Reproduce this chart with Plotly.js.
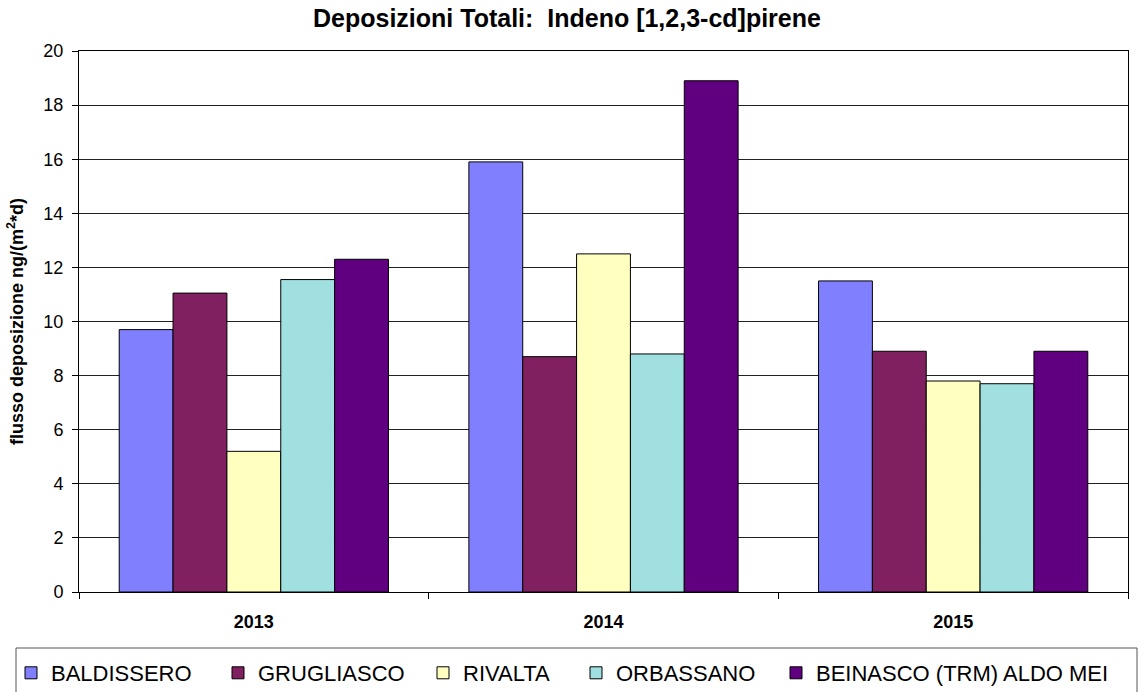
<!DOCTYPE html>
<html>
<head>
<meta charset="utf-8">
<script src="https://cdn.plot.ly/plotly-3.0.1.min.js"></script>
<style>html,body{margin:0;padding:0;background:#fff;}#chart{width:1145px;height:692px;}</style>
</head>
<body>
<div id="chart"></div>
<script>
// ---- data ----
const years = ['2013', '2014', '2015'];
const stations = ['BALDISSERO', 'GRUGLIASCO', 'RIVALTA', 'ORBASSANO', 'BEINASCO (TRM) ALDO MEI'];
const baldissero = [9.7, 15.9, 11.5];
const grugliasco = [11.05, 8.7, 8.9];
const rivalta = [5.2, 12.5, 7.8];
const orbassano = [11.55, 8.8, 7.7];
const beinasco = [12.3, 18.9, 8.9];
const yTicks = [0, 2, 4, 6, 8, 10, 12, 14, 16, 18, 20];

// ---- styling ----
const colors = ['#8080FF', '#802060', '#FFFFC0', '#A0E0E0', '#600080'];
const seriesValues = [baldissero, grugliasco, rivalta, orbassano, beinasco];
const W = 1145, H = 692;
const mL = 79, mR = 17, mT = 51, mB = 100;
const plotW = W - mL - mR, plotH = H - mT - mB;
const px2x = p => (p - mL) / plotW;
const px2y = p => (H - mB - p) / plotH;
const legendTextStart = [55, 262, 467, 620, 820];
const legendNames = ['legend', 'legend2', 'legend3', 'legend4', 'legend5'];

const traces = stations.map((name, i) => ({
  type: 'bar',
  name: name,
  x: years,
  y: seriesValues[i],
  marker: {color: colors[i], line: {color: '#000000', width: 1}},
  legend: legendNames[i],
  hoverinfo: 'x+y+name'
}));

const layout = {
  width: W, height: H,
  margin: {l: mL, r: mR, t: mT, b: mB, pad: 0, autoexpand: false},
  paper_bgcolor: '#ffffff',
  plot_bgcolor: '#ffffff',
  font: {family: 'Arial, "Liberation Sans", sans-serif', color: '#000000'},
  title: {
    text: '<b>Deposizioni Totali:  Indeno [1,2,3-cd]pirene</b>',
    font: {size: 25, color: '#000000'},
    x: px2x(313), xref: 'paper', xanchor: 'left',
    y: 1 - 18 / H, yref: 'container', yanchor: 'middle',
    automargin: false
  },
  barmode: 'group',
  bargap: 0.23,
  bargroupgap: 0,
  xaxis: {
    type: 'category',
    automargin: false,
    tickson: 'boundaries',
    ticks: 'outside', ticklen: 6, tickcolor: '#000000', tickwidth: 1,
    ticklabelstandoff: 13,
    showline: true, linecolor: '#000000', linewidth: 1, mirror: true,
    showgrid: false,
    tickfont: {size: 18, color: '#000000'},
    tickprefix: '<b>', ticksuffix: '</b>',
    fixedrange: true
  },
  yaxis: {
    range: [0, 20],
    automargin: false,
    tickvals: yTicks,
    ticks: 'outside', ticklen: 6, tickcolor: '#000000', tickwidth: 1,
    ticklabelstandoff: 5,
    showline: true, linecolor: '#000000', linewidth: 1, mirror: true,
    showgrid: true, gridcolor: '#222222', gridwidth: 1,
    zeroline: false,
    tickfont: {size: 18, color: '#000000'},
    title: {text: '<b>flusso deposizione ng/(m<sup>2</sup>*d)</b>', font: {size: 18, color: '#000000'}, standoff: 15},
    fixedrange: true
  },
  shapes: [{
    type: 'rect', xref: 'paper', yref: 'paper',
    x0: px2x(16), x1: px2x(1137), y0: px2y(648), y1: px2y(700),
    line: {color: '#555555', width: 1}, fillcolor: 'rgba(0,0,0,0)', layer: 'below'
  }],
  showlegend: true
};

legendNames.forEach((ln, i) => {
  layout[ln] = {
    orientation: 'h',
    x: px2x(legendTextStart[i] + 4 - 48), xanchor: 'left',
    y: px2y(673), yanchor: 'middle',
    font: {size: 22, color: '#000000'},
    bgcolor: 'rgba(0,0,0,0)', borderwidth: 0,
    itemwidth: 30
  };
});

Plotly.newPlot('chart', traces, layout, {displayModeBar: false, staticPlot: true});
</script>
</body>
</html>
